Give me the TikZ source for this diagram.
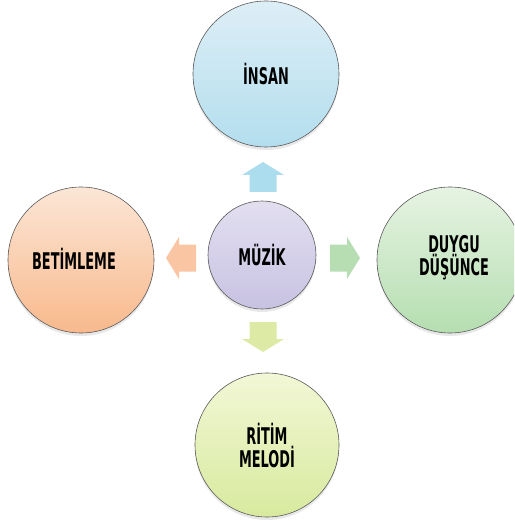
\documentclass[tikz,border=0pt]{standalone}
\usepackage{fontspec}
\setmainfont{DejaVu Sans}[FakeStretch=0.56]
\usetikzlibrary{shadows}
\definecolor{blueA}{HTML}{DDEEF6}\definecolor{blueB}{HTML}{B3DEEE}
\definecolor{lavA}{HTML}{E3DFF0}\definecolor{lavB}{HTML}{C8C2E2}
\definecolor{peachA}{HTML}{FCE6D6}\definecolor{peachB}{HTML}{F8B98C}
\definecolor{greenA}{HTML}{E6F3E2}\definecolor{greenB}{HTML}{B5DEB1}
\definecolor{yelA}{HTML}{F2F7D6}\definecolor{yelB}{HTML}{D8EA9E}
\definecolor{arBlue}{HTML}{ABDDEE}\definecolor{arPeach}{HTML}{F9C5A2}
\definecolor{arGreen}{HTML}{B7DDB2}\definecolor{arYel}{HTML}{DCEAA6}
\tikzset{
  lbl/.style={align=center, font=\bfseries\fontsize{23}{23}\selectfont, inner sep=0pt},
  bubble/.style={circle, draw=black!65, line width=0.6pt, lbl,
    drop shadow={opacity=0.18, shadow xshift=0pt, shadow yshift=-3pt}},
  barrow/.pic={\fill[pic actions] (0,-13.5) -- (17,-13.5) -- (17,-21) -- (30,0) -- (17,21) -- (17,13.5) -- (0,13.5) -- cycle;}
}
\begin{document}
\begin{tikzpicture}[x=1pt,y=-1pt]
\useasboundingbox (0,0) rectangle (514,521);
\clip (0,0) rectangle (514,521);
\node[bubble, minimum size=146pt, top color=blueA, bottom color=blueB] (insan) at (266,74) {İNSAN};
\node[bubble, minimum size=108pt, top color=lavA, bottom color=lavB] (muzik) at (262,255) {MÜZİK};
\node[bubble, minimum size=146pt, top color=peachA, bottom color=peachB] (betim) at (81,260) {};
\node[lbl] (betimt) at (74,259) {BETİMLEME};
\node[bubble, minimum size=146pt, top color=greenA, bottom color=greenB] (duygu) at (450,260) {};
\node[lbl] (duygut) at (454,258) {DUYGU\\DÜŞÜNCE};
\node[bubble, minimum size=144pt, top color=yelA, bottom color=yelB] (ritim) at (267,445) {RİTİM\\MELODİ};
\pic[fill=arBlue, rotate=90] at (263,192) {barrow};
\pic[fill=arPeach, rotate=180] at (196,258) {barrow};
\pic[fill=arGreen] at (330,258) {barrow};
\pic[fill=arYel, rotate=-90] at (263,322) {barrow};
\end{tikzpicture}
\end{document}
